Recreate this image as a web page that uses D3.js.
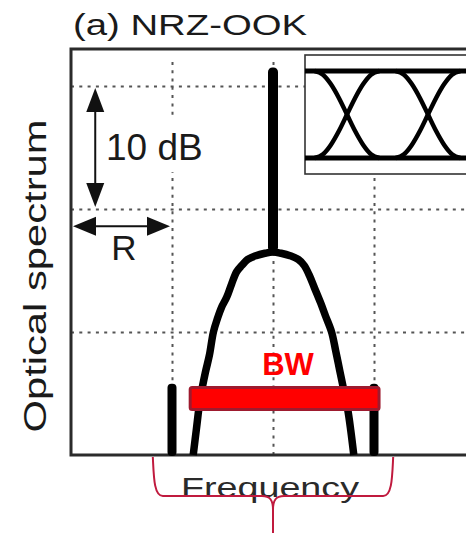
<!DOCTYPE html>
<html><head><meta charset="utf-8">
<script src="https://cdn.jsdelivr.net/npm/d3@7"></script>
<style>html,body{margin:0;padding:0;background:#fff;overflow:hidden}</style>
</head><body><svg id="c" width="466" height="533"></svg>
<script>
// ---------- data ----------
const titleText = "(a) NRZ-OOK";
const yLabelText = "Optical spectrum";
const xLabelText = "Frequency";
const bwLabel = "BW";
const dbLabel = "10 dB";
const rLabel = "R";

// grid (frequency in units of R, power in dB)
const xGridTicks = [-1, 0, 1, 2];
const yGridTicks = [0, -10, -20];

// spectrum envelope
const spectrumFreq = [-0.79,-0.76,-0.72,-0.67,-0.63,-0.59,-0.55,-0.51,-0.46,-0.41,-0.36,-0.31,-0.25,-0.17,-0.08,0,
                      0.08,0.17,0.25,0.31,0.36,0.41,0.47,0.52,0.58,0.62,0.66,0.70,0.74,0.77,0.80];
const spectrumDb   = [-30.0,-28.0,-25.4,-23.3,-21.9,-20.0,-18.9,-18.0,-17.2,-16.1,-15.1,-14.6,-14.1,-13.8,-13.6,-13.5,
                      -13.6,-13.8,-14.1,-14.6,-15.4,-16.4,-17.6,-18.7,-20.0,-21.5,-23.1,-24.7,-26.3,-28.0,-30.0];

// discrete tones
const carrierFreq = [0];
const carrierPeakDb = [1.5];
const carrierBaseDb = [-13.5];
const sideToneFreq = [-1, 1];
const sideTonePeakDb = [-24.2, -24.2];

// BW bar
const bwFreqRange = [-0.82, 1.05];
const bwLevelDb = -25.4;

// annotation arrows
const dbArrowFreq = -1.76;
const dbArrowRange = [0, -10];
const rArrowDb = -11.4;
const rArrowRange = [-2, -1];

// brace under the axis
const braceFreqRange = [-1.19, 1.19];

// eye diagram inset (time in bits, level 0..1)
const eyeCrossings = [0, 1];
const eyeEdgeT     = [-0.4, -0.3, -0.2, -0.1, 0, 0.1, 0.2, 0.3, 0.4];
const eyeEdgeLevel = [1, 0.96, 0.85, 0.69, 0.5, 0.31, 0.15, 0.04, 0];

// ---------- drawing ----------
const W = 466, H = 533;
const FONT = "'Liberation Sans', Arial, Helvetica, sans-serif";
const svg = d3.select("#c");
svg.append("rect").attr("width", W).attr("height", H).attr("fill", "#fff");

const x = d3.scaleLinear().domain([-2, 2]).range([71, 475]);
const y = d3.scaleLinear().domain([-30, 0]).range([455, 86]);
const yTopDb = 3;

// gridlines
const gx = svg.append("g").attr("transform", `translate(0,${y(-30)})`)
  .call(d3.axisBottom(x).tickValues(xGridTicks).tickSize(-(y(-30) - y(2.3))).tickFormat(""));
gx.select(".domain").remove();
gx.selectAll(".tick line").attr("stroke", "#555").attr("stroke-width", 2).attr("stroke-dasharray", "3 5.3");

const gy = svg.append("g").attr("transform", `translate(${x(-2)},0)`)
  .call(d3.axisLeft(y).tickValues(yGridTicks).tickSize(-(W - x(-2))).tickFormat(""));
gy.select(".domain").remove();
gy.selectAll(".tick line").attr("stroke", "#555").attr("stroke-width", 2).attr("stroke-dasharray", "3 5.3");

// white box behind 10 dB label
svg.append("rect").attr("x", 104).attr("y", 117).attr("width", 108).attr("height", 55).attr("fill", "#fff");

// eye diagram inset
const insetX = 305, insetY = 55, insetW = 200, insetH = 119;
svg.append("clipPath").attr("id", "eyeclip").append("rect")
  .attr("x", insetX).attr("y", insetY).attr("width", insetW).attr("height", insetH);
svg.append("rect").attr("x", insetX).attr("y", insetY).attr("width", insetW).attr("height", insetH)
  .attr("fill", "#fff").attr("stroke", "#333").attr("stroke-width", 1.6);
const ex = d3.scaleLinear().domain([0, 1]).range([347, 428]);
const ey = d3.scaleLinear().domain([0, 1]).range([158, 71]);
const eyeG = svg.append("g").attr("clip-path", "url(#eyeclip)");
[0, 1].forEach(l => {
  eyeG.append("line").attr("x1", insetX).attr("x2", W + 10).attr("y1", ey(l)).attr("y2", ey(l))
    .attr("stroke", "#000").attr("stroke-width", 4.8);
});
const eyeLine = d3.line().x(d => d[0]).y(d => d[1]).curve(d3.curveMonotoneX);
eyeCrossings.forEach(c => {
  const fall = eyeEdgeT.map((t, i) => [ex(c + t), ey(eyeEdgeLevel[i])]);
  const rise = eyeEdgeT.map((t, i) => [ex(c + t), ey(1 - eyeEdgeLevel[i])]);
  [fall, rise].forEach(p => eyeG.append("path").attr("d", eyeLine(p)).attr("fill", "none")
    .attr("stroke", "#000").attr("stroke-width", 4.5));
});

// frame
svg.append("path")
  .attr("d", `M${W + 5},${y(yTopDb)} H${x(-2)} V${y(-30)} H${W + 5}`)
  .attr("fill", "none").attr("stroke", "#2b2b2b").attr("stroke-width", 3);

// spectrum envelope
const specLine = d3.line().x(d => x(d[0])).y(d => y(d[1])).curve(d3.curveCatmullRom);
svg.append("path").attr("d", specLine(spectrumFreq.map((f, i) => [f, spectrumDb[i]])))
  .attr("fill", "none").attr("stroke", "#000").attr("stroke-width", 7.5).attr("stroke-linejoin", "round");

// carrier
svg.selectAll(".carrier").data(carrierFreq).enter().append("rect")
  .attr("x", d => x(d) - 5).attr("width", 10)
  .attr("y", (d, i) => y(carrierPeakDb[i])).attr("height", (d, i) => y(carrierBaseDb[i]) - y(carrierPeakDb[i]))
  .attr("rx", 4.5).attr("fill", "#000");

// side tones
svg.selectAll(".tone").data(sideToneFreq).enter().append("rect")
  .attr("x", d => x(d) - 4.5).attr("width", 9)
  .attr("y", (d, i) => y(sideTonePeakDb[i])).attr("height", (d, i) => y(-30) - y(sideTonePeakDb[i]) + 1)
  .attr("rx", 4).attr("fill", "#000");

// BW bar
svg.append("rect").attr("x", x(bwFreqRange[0])).attr("width", x(bwFreqRange[1]) - x(bwFreqRange[0]))
  .attr("y", y(bwLevelDb) - 11).attr("height", 22).attr("rx", 2)
  .attr("fill", "#ff0000").attr("stroke", "#9e1a2e").attr("stroke-width", 3);
svg.append("text").attr("x", 288).attr("y", 375).attr("text-anchor", "middle")
  .attr("font-family", FONT).attr("font-weight", "bold").attr("font-size", 31).attr("fill", "#ff0000").text(bwLabel);

// 10 dB arrow
const ax = x(dbArrowFreq), ay1 = y(dbArrowRange[0]) + 2, ay2 = y(dbArrowRange[1]) - 2;
svg.append("line").attr("x1", ax).attr("x2", ax).attr("y1", ay1 + 10).attr("y2", ay2 - 10)
  .attr("stroke", "#111").attr("stroke-width", 2);
svg.append("path").attr("d", `M${ax},${ay1} L${ax - 9},${ay1 + 24} L${ax + 9},${ay1 + 24} Z`).attr("fill", "#111");
svg.append("path").attr("d", `M${ax},${ay2} L${ax - 9},${ay2 - 24} L${ax + 9},${ay2 - 24} Z`).attr("fill", "#111");
svg.append("text").attr("x", 106).attr("y", 160).attr("font-family", FONT).attr("font-size", 37)
  .attr("fill", "#1a1a1a").text(dbLabel);

// R arrow
const ry = y(rArrowDb), rx1 = x(rArrowRange[0]) + 2, rx2 = x(rArrowRange[1]) - 2;
svg.append("line").attr("x1", rx1 + 10).attr("x2", rx2 - 10).attr("y1", ry).attr("y2", ry)
  .attr("stroke", "#111").attr("stroke-width", 2);
svg.append("path").attr("d", `M${rx1},${ry} L${rx1 + 23},${ry - 9.5} L${rx1 + 23},${ry + 9.5} Z`).attr("fill", "#111");
svg.append("path").attr("d", `M${rx2},${ry} L${rx2 - 23},${ry - 9.5} L${rx2 - 23},${ry + 9.5} Z`).attr("fill", "#111");
svg.append("text").attr("x", 124).attr("y", 260).attr("text-anchor", "middle").attr("font-family", FONT)
  .attr("font-size", 35).attr("fill", "#1a1a1a").text(rLabel);

// title
svg.append("text").attr("x", 73).attr("y", 35).attr("font-family", FONT).attr("font-size", 30)
  .attr("fill", "#1a1a1a").attr("textLength", 234).attr("lengthAdjust", "spacingAndGlyphs").text(titleText);

// y label
svg.append("text").attr("transform", "translate(46,276) rotate(-90)").attr("text-anchor", "middle")
  .attr("font-family", FONT).attr("font-size", 31).attr("fill", "#1a1a1a")
  .attr("textLength", 313).attr("lengthAdjust", "spacingAndGlyphs").text(yLabelText);

// x label
svg.append("text").attr("x", 181).attr("y", 497).attr("font-family", FONT).attr("font-size", 27)
  .attr("fill", "#2a2a2a").attr("textLength", 178).attr("lengthAdjust", "spacingAndGlyphs").text(xLabelText);

// brace
const bL = x(braceFreqRange[0]), bR = x(braceFreqRange[1]), bC = x(0);
const bTop = y(-30) + 2, bMid = 496, bBot = H + 2;
const bp = d3.path();
bp.moveTo(bL, bTop);
bp.bezierCurveTo(bL + 1, bMid - 20, bL + 1, bMid, bL + 10, bMid);
bp.lineTo(bC - 11, bMid);
bp.bezierCurveTo(bC - 3, bMid, bC, bMid + 4, bC, bMid + 14);
bp.lineTo(bC, bBot);
bp.moveTo(bC, bMid + 14);
bp.bezierCurveTo(bC, bMid + 4, bC + 3, bMid, bC + 11, bMid);
bp.lineTo(bR - 10, bMid);
bp.bezierCurveTo(bR - 1, bMid, bR - 1, bMid - 20, bR, bTop);
svg.append("path").attr("d", bp.toString()).attr("fill", "none")
  .attr("stroke", "#c01a3e").attr("stroke-width", 2);
</script></body></html>
